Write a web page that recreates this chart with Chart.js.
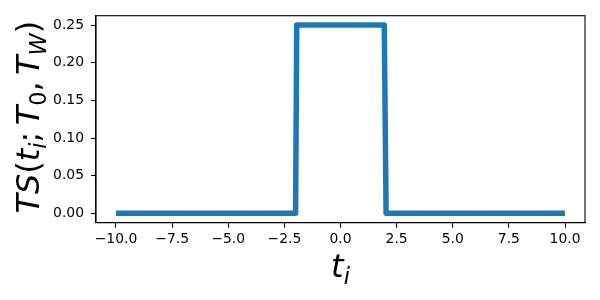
<!DOCTYPE html>
<html>
<head>
<meta charset="utf-8">
<script src="https://cdn.jsdelivr.net/npm/chart.js@4/dist/chart.umd.min.js"></script>
<style>
html,body{margin:0;padding:0;background:#fff;}
#c{display:block;}
</style>
</head>
<body>
<canvas id="c" width="600" height="300" style="width:600px;height:300px"></canvas>
<script>
// ---- data ----
const tValues  = [-10, -2.0, -1.95, 1.95, 2.03, 10];
const tsValues = [0, 0, 0.25, 0.25, 0, 0];
const xTicks = [-10, -7.5, -5, -2.5, 0, 2.5, 5, 7.5, 10];
const yTicks = [0, 0.05, 0.10, 0.15, 0.20, 0.25];
const xRange = [-10.89, 10.89];
const yRange = [-0.0125, 0.2625];
// math labels: [text, italic, subscript, spaceAfter(em)]
const yLabelParts = [
  ['T',1,0,0],['S',1,0,0],['(',0,0,0],['t',1,0,0],['i',1,1,0],[';',0,0,0.2],
  ['T',1,0,0],['0',0,1,0],[',',0,0,0.2],['T',1,0,0],['W',1,1,0],[')',0,0,0]
];
const xLabelParts = [['t',1,0,0],['i',1,1,0]];

const FS = 32;
function partsWidth(ctx, parts){
  let w = 0;
  for (const p of parts){
    const size = p[2] ? FS*0.7 : FS;
    ctx.font = (p[1] ? 'italic ' : '') + size + 'px "DejaVu Sans"';
    w += ctx.measureText(p[0]).width + p[3]*FS;
  }
  return w;
}
function drawParts(ctx, parts, cx, baseY){
  const w = partsWidth(ctx, parts);
  let x = cx - w/2;
  ctx.fillStyle = '#000';
  ctx.textBaseline = 'alphabetic';
  ctx.textAlign = 'left';
  for (const p of parts){
    const size = p[2] ? FS*0.7 : FS;
    ctx.font = (p[1] ? 'italic ' : '') + size + 'px "DejaVu Sans"';
    const dy = p[2] ? FS*0.22 : 0;
    ctx.fillText(p[0], x, baseY + dy);
    x += ctx.measureText(p[0]).width + p[3]*FS;
  }
}

const framePlugin = {
  id: 'frame',
  afterDraw(chart){
    const {ctx, chartArea:a} = chart;
    ctx.save();
    ctx.strokeStyle = '#000';
    ctx.lineWidth = 1.1;
    ctx.strokeRect(a.left, a.top, a.right - a.left, a.bottom - a.top);
    // x label
    drawParts(ctx, xLabelParts, (a.left + a.right)/2, 277);
    // y label
    ctx.translate(39, (a.top + a.bottom)/2 - 2);
    ctx.rotate(-Math.PI/2);
    drawParts(ctx, yLabelParts, 0, 0);
    ctx.restore();
  }
};

const fmt = (v, d) => v.toFixed(d).replace('-', '\u2212');

new Chart(document.getElementById('c'), {
  type: 'line',
  data: {
    datasets: [{
      data: tValues.map((t, i) => ({x: t, y: tsValues[i]})),
      borderColor: '#1f77b4',
      borderWidth: 5.5,
      borderCapStyle: 'butt',
      borderJoinStyle: 'round',
      pointRadius: 0,
      tension: 0,
      fill: false
    }]
  },
  options: {
    responsive: false,
    animation: false,
    devicePixelRatio: 1,
    layout: { padding: { left: 0, right: 15, top: 15.7, bottom: 0 } },
    plugins: { legend: {display: false}, tooltip: {enabled: false} },
    scales: {
      x: {
        type: 'linear',
        min: xRange[0], max: xRange[1],
        afterBuildTicks: s => { s.ticks = xTicks.map(v => ({value: v})); },
        afterFit: s => { s.height = 77.3; },
        grid: { display: true, drawOnChartArea: false, drawTicks: true, tickLength: 5, tickWidth: 1.1, tickColor: '#000' },
        border: { display: true, color: '#000', width: 1.1 },
        ticks: { color: '#000', font: { family: 'DejaVu Sans', size: 13.9 }, padding: 3, maxRotation: 0, autoSkip: false,
                 callback: v => fmt(v, 1) }
      },
      y: {
        type: 'linear',
        min: yRange[0], max: yRange[1],
        afterBuildTicks: s => { s.ticks = yTicks.map(v => ({value: v})); },
        afterFit: s => { s.width = 96; },
        grid: { display: true, drawOnChartArea: false, drawTicks: true, tickLength: 5, tickWidth: 1.1, tickColor: '#000' },
        border: { display: true, color: '#000', width: 1.1 },
        ticks: { color: '#000', font: { family: 'DejaVu Sans', size: 13.9 }, padding: 7, autoSkip: false,
                 callback: v => fmt(v, 2) }
      }
    }
  },
  plugins: [framePlugin]
});
</script>
</body>
</html>
